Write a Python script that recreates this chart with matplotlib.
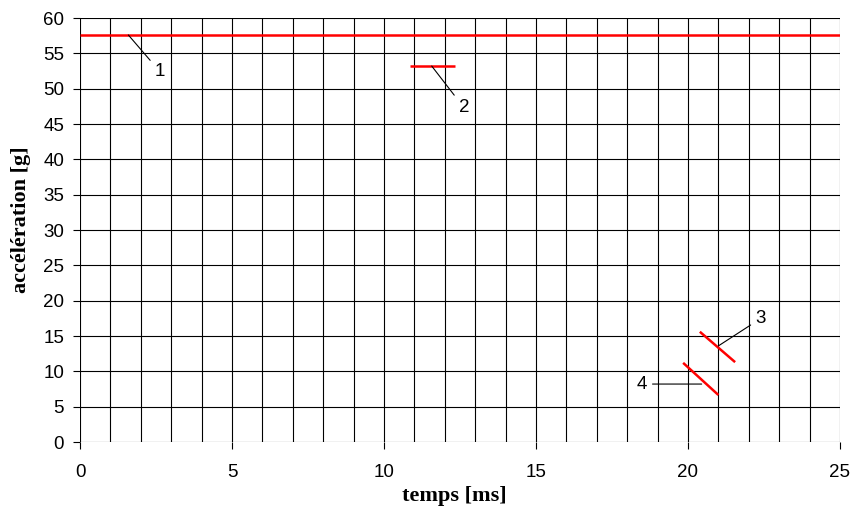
import matplotlib
matplotlib.use("Agg")
import matplotlib.pyplot as plt
import numpy as np

# Data
curve_labels = ["1", "2", "3", "4"]
curve_x = [[0.0, 25.0], [10.86, 12.34], [20.39, 21.55], [19.84, 21.0]]
curve_y = [[57.6, 57.6], [53.2, 53.2], [15.6, 11.3], [11.2, 6.65]]
ann_point = [(1.59, 57.6), (11.57, 53.2), (21.0, 13.6), (20.45, 8.2)]
ann_text = [(2.63, 52.4), (12.63, 47.3), (22.4, 17.5), (18.48, 8.2)]
x_ticks = [0, 5, 10, 15, 20, 25]
y_ticks = list(range(0, 61, 5))

fig = plt.figure(figsize=(8.52, 5.11), dpi=100)
ax = fig.add_axes([80/852, 69/511, 760/852, 424/511])
ax.set_xlim(0, 25)
ax.set_ylim(0, 60)

# grid
for xv in np.arange(0, 26, 1):
    ax.axvline(xv, color="black", lw=0.8, zorder=1)
for yv in y_ticks:
    ax.axhline(yv, color="black", lw=0.8, zorder=1)

for xs, ys in zip(curve_x, curve_y):
    ax.plot(xs, ys, color="#ff0000", lw=1.8, zorder=3, solid_capstyle="butt")

for lab, p, t in zip(curve_labels, ann_point, ann_text):
    ax.annotate(lab, xy=p, xytext=t, ha="center", va="center",
                fontsize=13.5, family="Liberation Sans",
                arrowprops=dict(arrowstyle="-", color="black", lw=0.8,
                                shrinkA=2, shrinkB=0), zorder=4)

for s in ax.spines.values():
    s.set_visible(False)
ax.set_xticks(x_ticks)
ax.set_yticks(y_ticks)
ax.tick_params(direction="out", length=5, width=0.8, color="black",
               labelsize=13.5)
ax.tick_params(axis="x", pad=11)
ax.tick_params(axis="y", pad=6.5)
for lbl in ax.get_xticklabels() + ax.get_yticklabels():
    lbl.set_family("Liberation Sans")

ax.set_xlabel("temps [ms]", family="Liberation Serif", fontweight="bold",
              fontsize=16)
ax.set_ylabel("accélération [g]", family="Liberation Serif", fontweight="bold",
              fontsize=16)
ax.xaxis.set_label_coords(454/852 * 852/760 - 80/760, -(496-442)/424, transform=None) if False else None
ax.xaxis.set_label_coords((454-80)/760, -(496-442)/424)
ax.xaxis.label.set_va("center")
ax.yaxis.set_label_coords(-(80-21)/760, (442-220)/424)
ax.yaxis.label.set_va("center")

fig.savefig("out.png", dpi=100)
